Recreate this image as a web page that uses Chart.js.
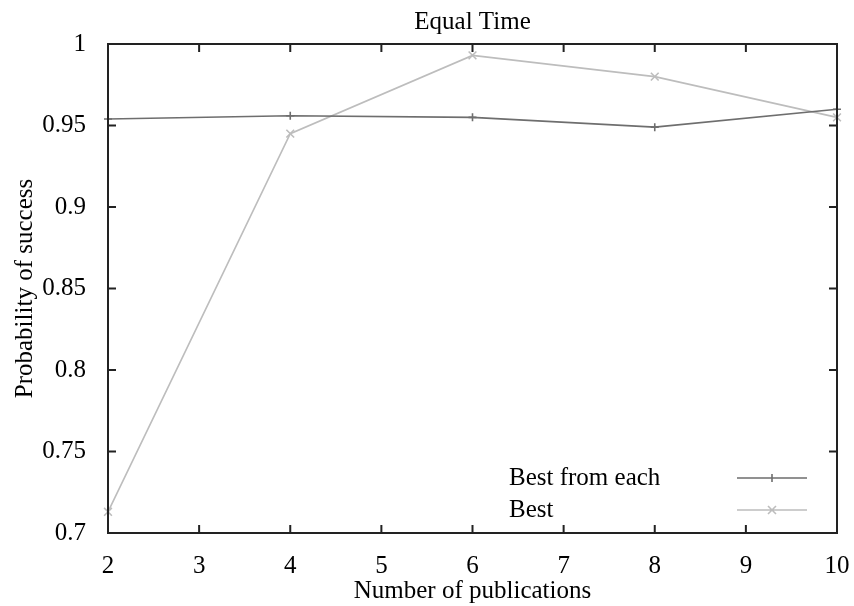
<!DOCTYPE html>
<html>
<head>
<meta charset="utf-8">
<script src="https://cdn.jsdelivr.net/npm/chart.js@4"></script>
<style>
html,body{margin:0;padding:0;background:#fff;}
#wrap{width:854px;height:606px;}
</style>
</head>
<body>
<div id="wrap"><canvas id="equalTime" width="854" height="606"></canvas></div>
<script>
const publications = [2, 4, 6, 8, 10];
const bestFromEach = [0.954, 0.956, 0.955, 0.949, 0.960];
const best = [0.713, 0.945, 0.993, 0.980, 0.955];

const xTicks = [2, 3, 4, 5, 6, 7, 8, 9, 10];
const yTicks = [0.7, 0.75, 0.8, 0.85, 0.9, 0.95, 1];

const chartTitle = "Equal Time";
const serif = "'Liberation Serif', 'Times New Roman', serif";

/* gnuplot style frame with inward ticks on all four sides, title over the plot, key */
const framePlugin = {
  id: "frame",
  afterDatasetsDraw(chart) {
    const c = chart.ctx, a = chart.chartArea;
    const xs = chart.scales.x, ys = chart.scales.y;
    c.save();
    c.strokeStyle = "#222";
    c.lineWidth = 2;
    c.strokeRect(a.left, a.top, a.right - a.left, a.bottom - a.top);
    c.beginPath();
    xs.ticks.forEach(t => {
      const px = xs.getPixelForValue(t.value);
      c.moveTo(px, a.bottom); c.lineTo(px, a.bottom - 8);
      c.moveTo(px, a.top); c.lineTo(px, a.top + 8);
    });
    ys.ticks.forEach(t => {
      const py = ys.getPixelForValue(t.value);
      c.moveTo(a.left, py); c.lineTo(a.left + 8, py);
      c.moveTo(a.right, py); c.lineTo(a.right - 8, py);
    });
    c.stroke();

    c.font = "25px " + serif;
    c.fillStyle = "#000";
    c.textAlign = "center";
    c.textBaseline = "middle";
    c.fillText(chartTitle, (a.left + a.right) / 2, 22);

    // key, bottom right inside the plot
    c.textAlign = "left";
    chart.data.datasets.forEach((ds, i) => {
      const y = a.bottom - 55 + i * 32;
      c.fillText(ds.label, a.right - 328, y);
      c.strokeStyle = ds.borderColor;
      c.lineWidth = 1.6;
      c.beginPath();
      c.moveTo(a.right - 100, y); c.lineTo(a.right - 30, y);
      const mx = a.right - 65;
      if (ds.pointStyle === "cross") {
        c.moveTo(mx - 4, y); c.lineTo(mx + 4, y);
        c.moveTo(mx, y - 4); c.lineTo(mx, y + 4);
      } else {
        c.moveTo(mx - 4, y - 4); c.lineTo(mx + 4, y + 4);
        c.moveTo(mx - 4, y + 4); c.lineTo(mx + 4, y - 4);
      }
      c.stroke();
    });
    c.restore();
  }
};

new Chart(document.getElementById("equalTime"), {
  type: "line",
  data: {
    labels: publications,
    datasets: [
      {
        label: "Best from each",
        data: publications.map((p, i) => ({x: p, y: bestFromEach[i]})),
        borderColor: "#6e6e6e",
        backgroundColor: "#6e6e6e",
        borderWidth: 1.6,
        pointStyle: "cross",
        pointRadius: 4,
        pointBorderWidth: 1.6,
        tension: 0,
        clip: false
      },
      {
        label: "Best",
        data: publications.map((p, i) => ({x: p, y: best[i]})),
        borderColor: "#bdbdbd",
        backgroundColor: "#bdbdbd",
        borderWidth: 1.6,
        pointStyle: "crossRot",
        pointRadius: 5.5,
        pointBorderWidth: 1.6,
        tension: 0,
        clip: false
      }
    ]
  },
  options: {
    responsive: false,
    animation: false,
    devicePixelRatio: 1,
    layout: {padding: {left: 0, right: 17, top: 44, bottom: 0}},
    plugins: {
      legend: {display: false},
      tooltip: {enabled: false},
      title: {display: false}
    },
    scales: {
      x: {
        type: "linear",
        min: 2, max: 10,
        afterBuildTicks: s => { s.ticks = xTicks.map(v => ({value: v})); },
        afterFit: s => { s.height = 73; s.paddingLeft = 0; s.paddingRight = 0; },
        grid: {display: false},
        border: {display: false},
        ticks: {color: "#000", padding: 10, font: {family: serif, size: 25}, maxRotation: 0},
        title: {
          display: true,
          text: "Number of publications",
          color: "#000",
          font: {family: serif, size: 25},
          padding: {top: 0, bottom: 0}
        }
      },
      y: {
        min: 0.7, max: 1,
        afterBuildTicks: s => { s.ticks = yTicks.map(v => ({value: v})); },
        afterFit: s => { s.width = 108; s.paddingTop = 0; s.paddingBottom = 0; },
        grid: {display: false},
        border: {display: false},
        ticks: {color: "#000", padding: 14, font: {family: serif, size: 25},
                callback: v => String(v)},
        title: {
          display: true,
          text: "Probability of success",
          color: "#000",
          font: {family: serif, size: 25},
          padding: {top: 10, bottom: 0}
        }
      }
    }
  },
  plugins: [framePlugin]
});
</script>
</body>
</html>
